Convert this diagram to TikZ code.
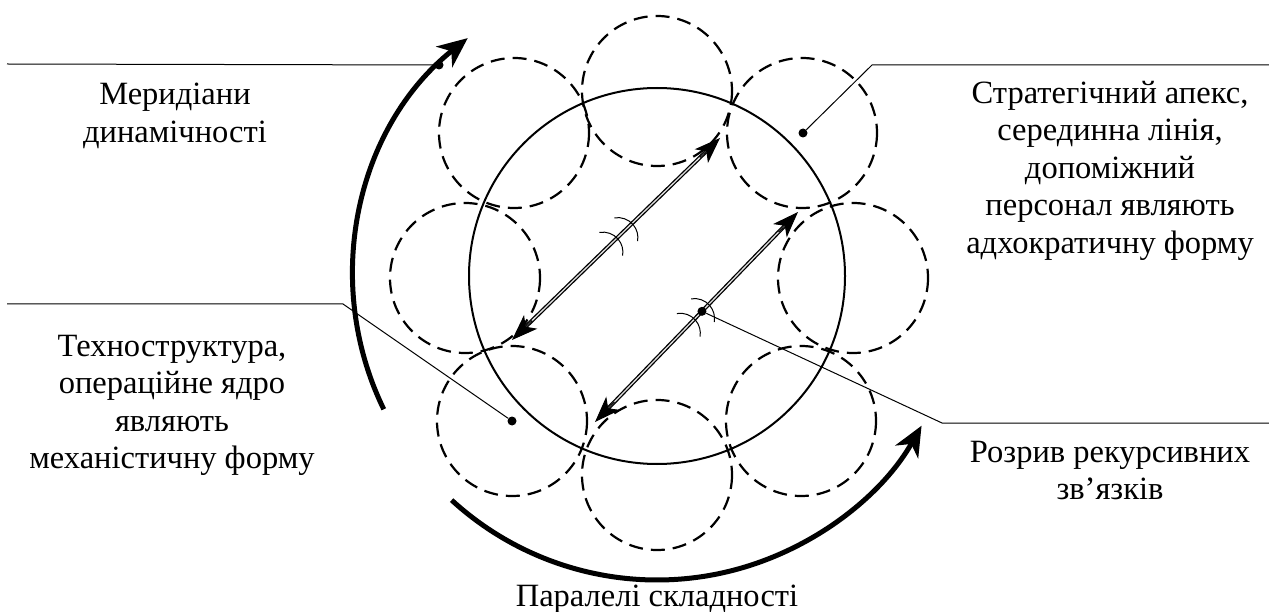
\documentclass[tikz,border=0pt]{standalone}
\usepackage{fontspec}
\setmainfont{Liberation Serif}
\usepackage{tikz}
\usetikzlibrary{arrows.meta, calc}

\tikzset{
    mala/.style={line width=2.2pt, dash pattern=on 14pt off 8pt},
    zvjazok/.style={double=gray!25, double distance=1.3pt, line width=1.3pt},
    vistrja/.style={line width=1pt, -{Stealth[length=26pt,width=19pt,inset=7pt]}},
    potik/.style={line width=5pt, -{Stealth[length=30pt,width=26pt,inset=9pt]}},
    vynoska/.style={line width=1pt},
    krapka/.style={circle, fill, inner sep=0pt, minimum size=9pt},
    pidpys/.style={align=center, inner sep=0pt, anchor=north,
        font=\fontsize{32.5}{37.5}\selectfont},
    rozryv/.pic={\draw[line width=1pt] (135:20) ++(-100:20) arc[start angle=-100, end angle=10, radius=20];}
}

\begin{document}
\begin{tikzpicture}[>=Stealth, x=1pt, y=-1pt]
    \useasboundingbox (0,0) rectangle (1269,612);

    % Ядро і кола
    \coordinate (O) at (657,276);
    \coordinate (k1) at (657,91);
    \coordinate (k2) at (802,133);
    \coordinate (k3) at (853,278);
    \coordinate (k4) at (801,421);
    \coordinate (k5) at (657,475);
    \coordinate (k6) at (512,421);
    \coordinate (k7) at (465,278);
    \coordinate (k8) at (514,133);
    \draw[line width=2pt] (O) circle[radius=188];
    \foreach \i in {1,...,8} {
        \draw[mala] (k\i) circle[radius=75];
    }

    % Рекурсивні зв'язки
    \coordinate (a1) at (720,138);
    \coordinate (b1) at (512,340);
    \coordinate (a2) at (798,212);
    \coordinate (b2) at (595,422);
    \foreach \a/\b in {a1/b1, a2/b2} {
        \draw[zvjazok] ($(\a)!15pt!(\b)$) -- ($(\b)!15pt!(\a)$);
        \draw[vistrja] ($(\a)!28pt!(\b)$) -- (\a);
        \draw[vistrja] ($(\b)!28pt!(\a)$) -- (\b);
    }
    \pic at ($(b1)!0.505!(a1)$) {rozryv};
    \pic at ($(b1)!0.577!(a1)$) {rozryv};
    \pic at ($(b2)!0.49!(a2)$) {rozryv};
    \pic at ($(b2)!0.56!(a2)$) {rozryv};

    % Меридіани і паралелі
    \draw[potik] ([shift={(O)}]154:304) arc[start angle=154, end angle=231.5, radius=304];
    \draw[potik] ([shift={(O)}]132.5:304) arc[start angle=132.5, end angle=29.5, radius=304];

    % Підписи
    \node[pidpys] (merydiany) at (175,83) {Меридіани\\динамічності};
    \node[pidpys] (apeks) at (1110,81) {Стратегічний апекс,\\серединна лінія,\\допоміжний\\персонал являють\\адхократичну форму};
    \node[pidpys] (tekhno) at (172,335) {Техноструктура,\\операційне ядро\\являють\\механістичну форму};
    \node[pidpys] (rozryvtxt) at (1110,441) {Розрив рекурсивних\\зв’язків};
    \node[pidpys] (paraleli) at (657,585) {Паралелі складності};

    % Виноски
    \node[krapka] (d1) at (439,65) {};
    \coordinate (l1) at (7,64);
    \draw[vynoska] (l1) -- (d1);

    \node[krapka] (d2) at (803,133) {};
    \coordinate (z2) at (872,65);
    \coordinate (r2) at (1269,65);
    \draw[vynoska] (d2) -- (z2) -- (r2);

    \node[krapka] (d3) at (512,421) {};
    \coordinate (l3) at (7,304);
    \coordinate (z3) at (343,304);
    \draw[vynoska] (l3) -- (z3) -- (d3);

    \node[krapka] (d4) at ($(b2)!0.527!(a2)$) {};
    \coordinate (z4) at (942,423);
    \coordinate (r4) at (1269,423);
    \draw[vynoska] (d4) -- (z4) -- (r4);
\end{tikzpicture}
\end{document}
